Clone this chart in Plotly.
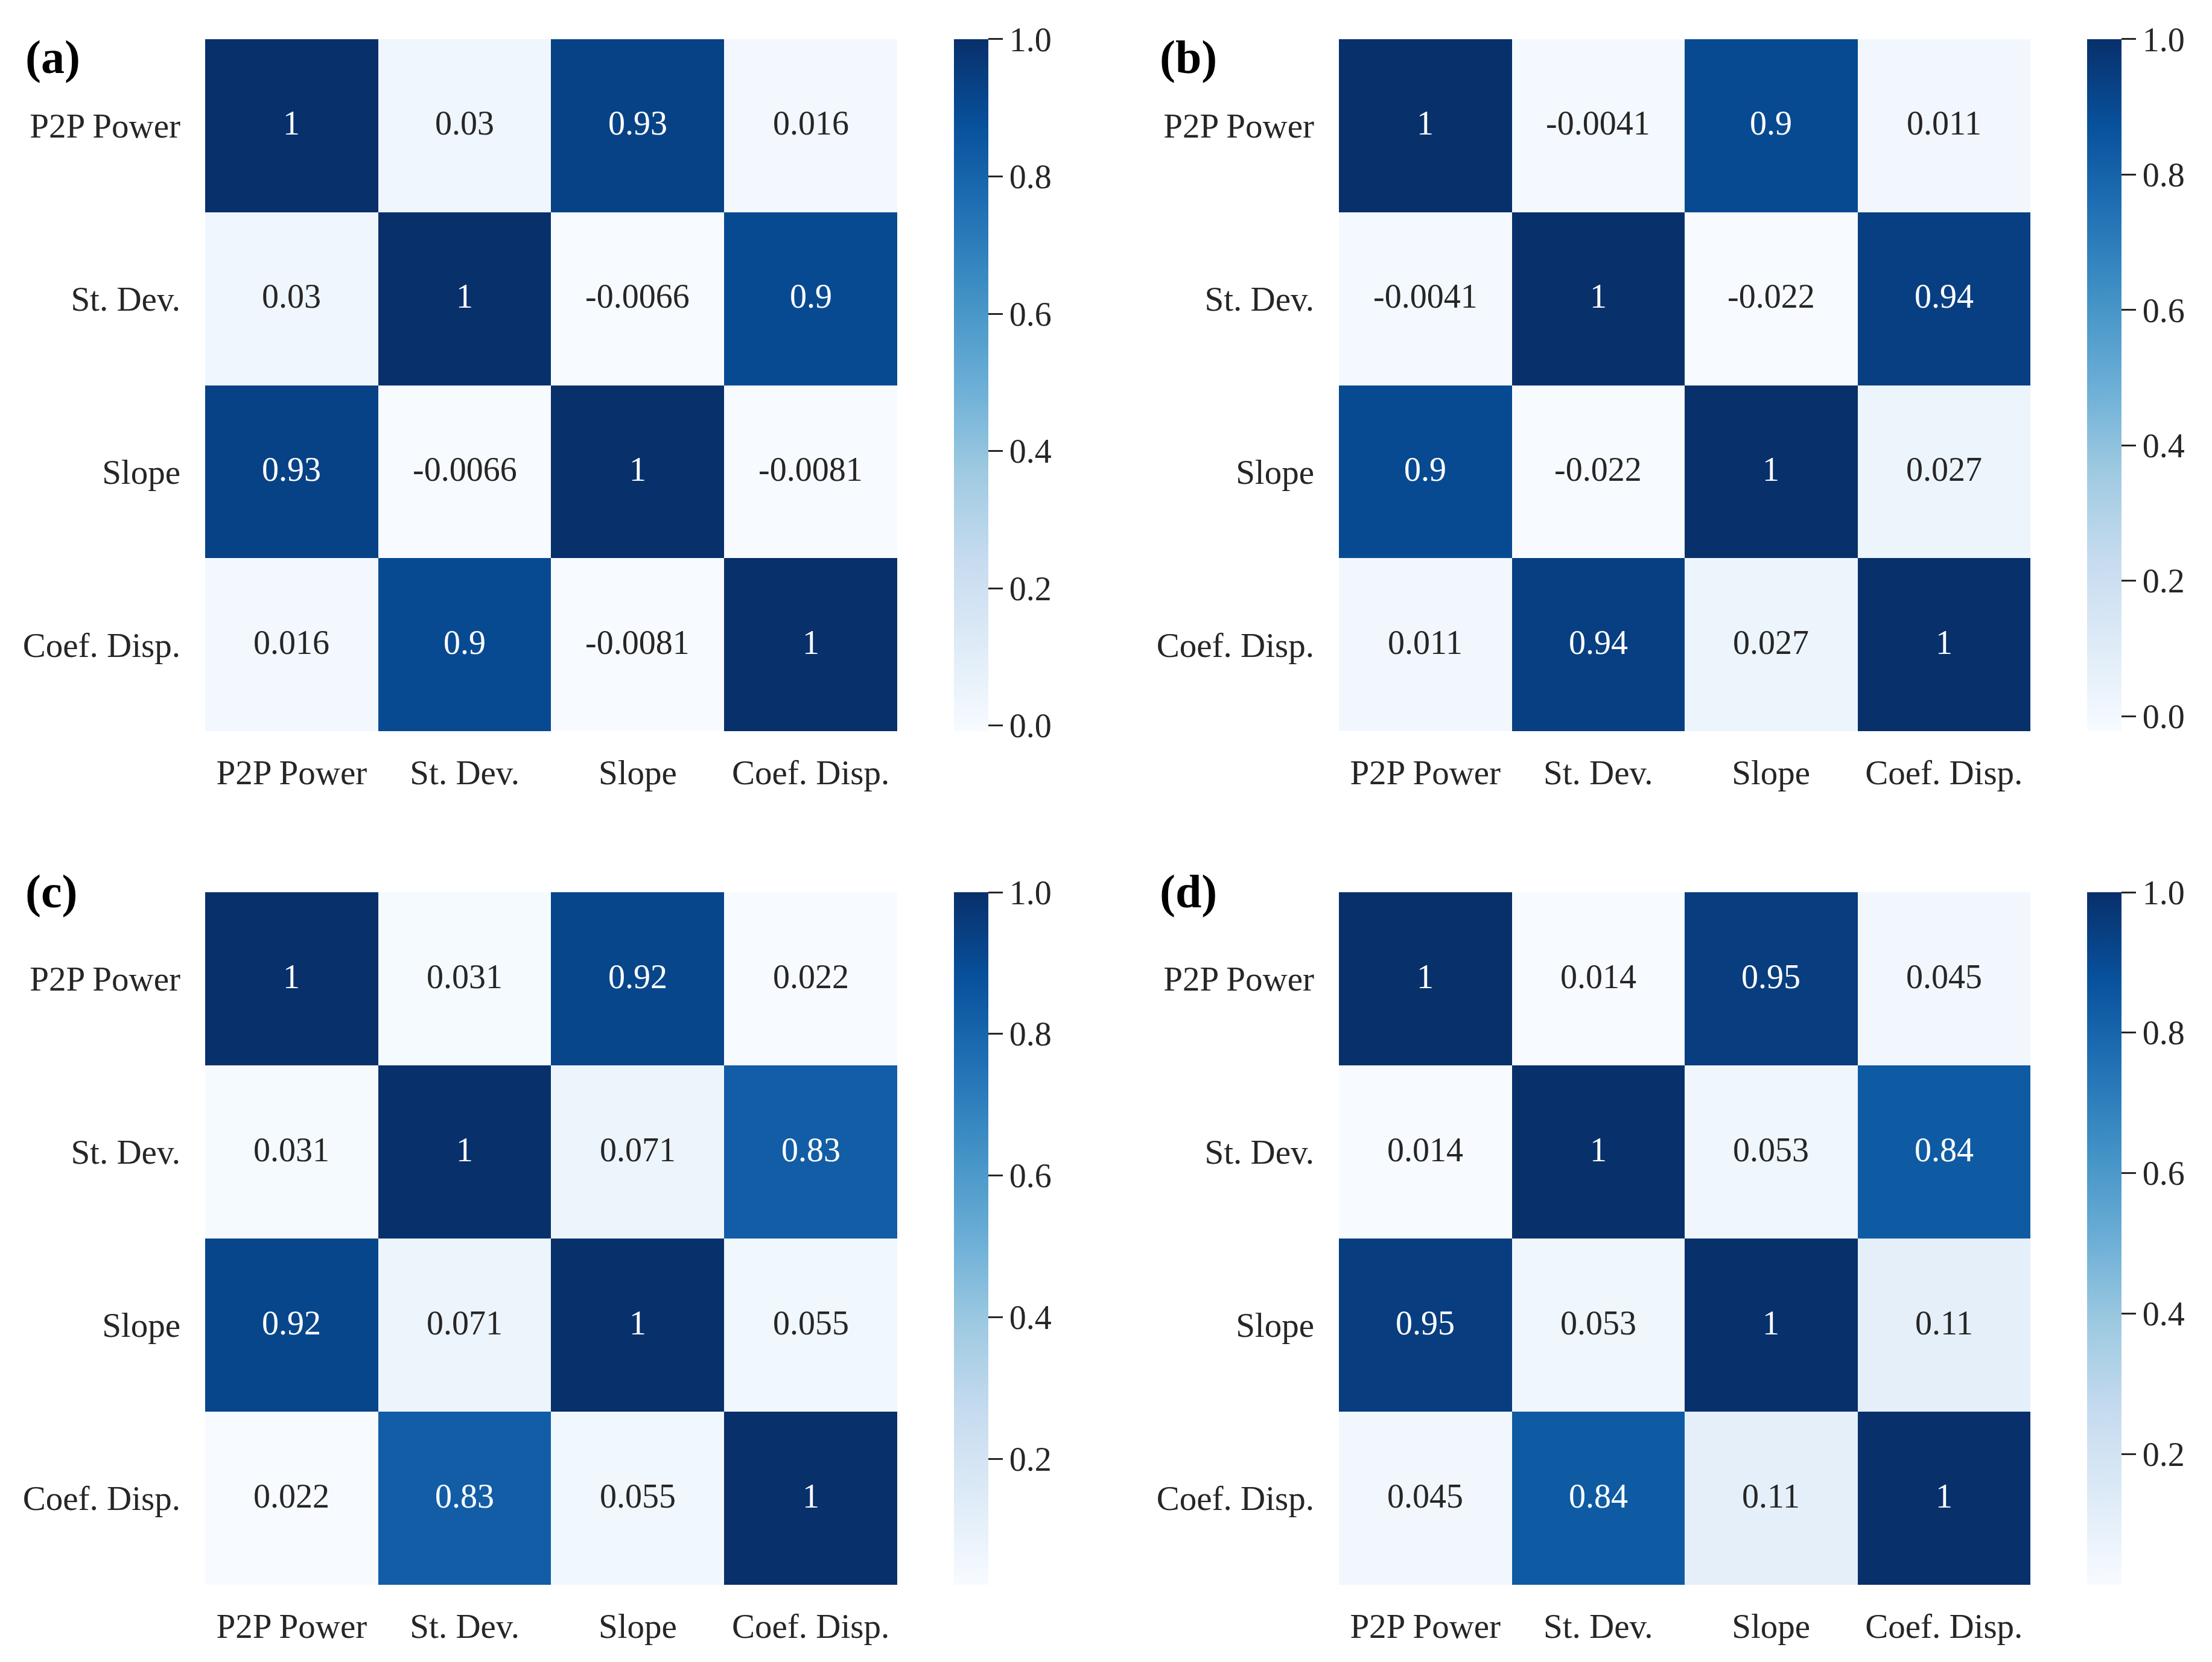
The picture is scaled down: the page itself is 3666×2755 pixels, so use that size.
import plotly.graph_objects as go
import plotly.colors as pc

labels = ["P2P Power", "St. Dev.", "Slope", "Coef. Disp."]

corr_a = [[1, 0.03, 0.93, 0.016],
          [0.03, 1, -0.0066, 0.9],
          [0.93, -0.0066, 1, -0.0081],
          [0.016, 0.9, -0.0081, 1]]
corr_b = [[1, -0.0041, 0.9, 0.011],
          [-0.0041, 1, -0.022, 0.94],
          [0.9, -0.022, 1, 0.027],
          [0.011, 0.94, 0.027, 1]]
corr_c = [[1, 0.031, 0.92, 0.022],
          [0.031, 1, 0.071, 0.83],
          [0.92, 0.071, 1, 0.055],
          [0.022, 0.83, 0.055, 1]]
corr_d = [[1, 0.014, 0.95, 0.045],
          [0.014, 1, 0.053, 0.84],
          [0.95, 0.053, 1, 0.11],
          [0.045, 0.84, 0.11, 1]]

panel_names = ["(a)", "(b)", "(c)", "(d)"]
cbar_ticks = [0.0, 0.2, 0.4, 0.6, 0.8, 1.0]

FONT = "Liberation Serif"
TXT = "#262626"
W, H = 3666, 2755
blues = pc.sequential.Blues

# layout (paper coordinates)
x_doms = [[0.09056, 0.40344], [0.60311, 0.91571]]
y_doms = [[0.56298, 0.97931], [0.04936, 0.46606]]
cbar_x = [0.42908, 0.94135]
label_x = [0.0087, 0.5215]
label_y = [0.985, 0.483]


def lum(rgbstr):
    r, g, b = [float(v) / 255 for v in rgbstr[rgbstr.index("(") + 1:-1].split(",")]
    def lin(c):
        return c / 12.92 if c <= 0.03928 else ((c + 0.055) / 1.055) ** 2.4
    return 0.2126 * lin(r) + 0.7152 * lin(g) + 0.0722 * lin(b)


fig = go.Figure()
mats = [corr_a, corr_b, corr_c, corr_d]
annotations = []
for k, z in enumerate(mats):
    row, col = divmod(k, 2)
    xa = "x" if k == 0 else f"x{k+1}"
    ya = "y" if k == 0 else f"y{k+1}"
    zmin = min(min(r) for r in z)
    zmax = max(max(r) for r in z)
    fig.add_trace(go.Heatmap(
        z=z, x=labels, y=labels, xaxis=xa, yaxis=ya,
        colorscale=blues, zmin=zmin, zmax=zmax,
        colorbar=dict(
            x=cbar_x[col], xanchor="left", y=y_doms[row][0], yanchor="bottom",
            len=y_doms[row][1] - y_doms[row][0], lenmode="fraction",
            thickness=57, thicknessmode="pixels", xpad=0, ypad=0,
            outlinewidth=0, ticks="outside", ticklen=24, tickwidth=3,
            tickcolor=TXT, tickvals=cbar_ticks, tickformat=".1f",
            tickfont=dict(family=FONT, size=56, color=TXT),
        ),
        hoverinfo="skip",
    ))
    for i, rowv in enumerate(z):
        for j, v in enumerate(rowv):
            t = (v - zmin) / (zmax - zmin)
            c = pc.sample_colorscale(blues, [t])[0]
            col_txt = TXT if lum(c) > 0.408 else "#ffffff"
            annotations.append(dict(
                x=labels[j], y=labels[i], xref=xa, yref=ya, yshift=4,
                text=format(v, ".2g"), showarrow=False,
                font=dict(family=FONT, size=56, color=col_txt),
            ))
    annotations.append(dict(
        x=label_x[col], y=label_y[row], xref="paper", yref="paper",
        xanchor="left", yanchor="top", text="<b>" + panel_names[k] + "</b>",
        showarrow=False, font=dict(family=FONT, size=78, color="#000000"),
    ))
    axis_common = dict(showgrid=False, zeroline=False, showline=False, ticks="",
                       tickfont=dict(family=FONT, size=57, color=TXT))
    fig.layout[("xaxis" if k == 0 else f"xaxis{k+1}")] = dict(
        domain=x_doms[col], anchor=ya, ticklabelstandoff=30, **axis_common)
    fig.layout[("yaxis" if k == 0 else f"yaxis{k+1}")] = dict(
        domain=y_doms[row], anchor=xa, autorange="reversed",
        ticklabelstandoff=40, **axis_common)

fig.update_layout(
    width=W, height=H, margin=dict(l=0, r=0, t=0, b=0),
    paper_bgcolor="white", plot_bgcolor="white",
    annotations=annotations, showlegend=False,
)
fig.write_html("out.html")
